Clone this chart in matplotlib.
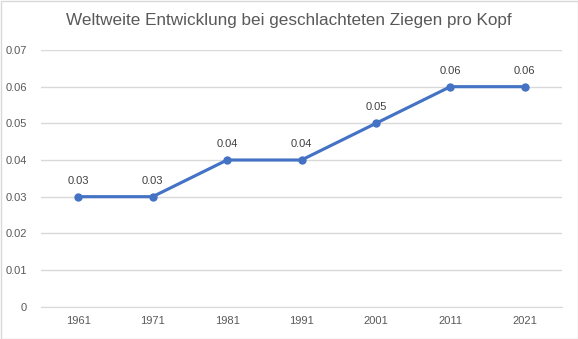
import matplotlib
matplotlib.use("Agg")
import matplotlib.pyplot as plt

years = ["1961", "1971", "1981", "1991", "2001", "2011", "2021"]
values = [0.03, 0.03, 0.04, 0.04, 0.05, 0.06, 0.06]
yticks = [0, 0.01, 0.02, 0.03, 0.04, 0.05, 0.06, 0.07]
title = "Weltweite Entwicklung bei geschlachteten Ziegen pro Kopf"

plt.rcParams['font.family'] = ['Liberation Sans', 'DejaVu Sans']
W, H = 578, 339
fig = plt.figure(figsize=(W/100, H/100), dpi=100)
ax = fig.add_axes([41/W, 1-306.7/H, (562-41)/W, (306.7-50)/H])

x = list(range(len(years)))
ax.plot(x, values, color="#4472C4", lw=2.25, marker="o", ms=5, zorder=3)
for xi, v in zip(x, values):
    ax.annotate(f"{v:.2f}", (xi, v), xytext=(0, 8), textcoords="offset points",
                ha="center", va="bottom", fontsize=8, color="#404040")

ax.set_xlim(-0.5, len(years)-0.5)
ax.set_ylim(0, 0.07)
ax.set_yticks(yticks)
ax.set_yticklabels(["0" if t == 0 else f"{t:.2f}" for t in yticks])
ax.set_xticks(x)
ax.set_xticklabels(years)
ax.tick_params(length=0, labelsize=8, labelcolor="#595959")
ax.tick_params(axis="y", pad=10)
ax.tick_params(axis="x", pad=7)
ax.grid(axis="y", color="#D9D9D9", lw=1)
ax.set_axisbelow(True)
for s in ["top", "right", "left"]:
    ax.spines[s].set_visible(False)
ax.spines["bottom"].set_color("#D9D9D9")

fig.text(0.5, 1-20/H, title, ha="center", va="center", fontsize=12.3, color="#595959")

border = plt.Rectangle((0.5/W, 0.5/H), 1-1/W, 1-1/H, transform=fig.transFigure,
                       fill=False, edgecolor="#D9D9D9", lw=1)
fig.patches.append(border)
fig.savefig("out.png", dpi=100)
